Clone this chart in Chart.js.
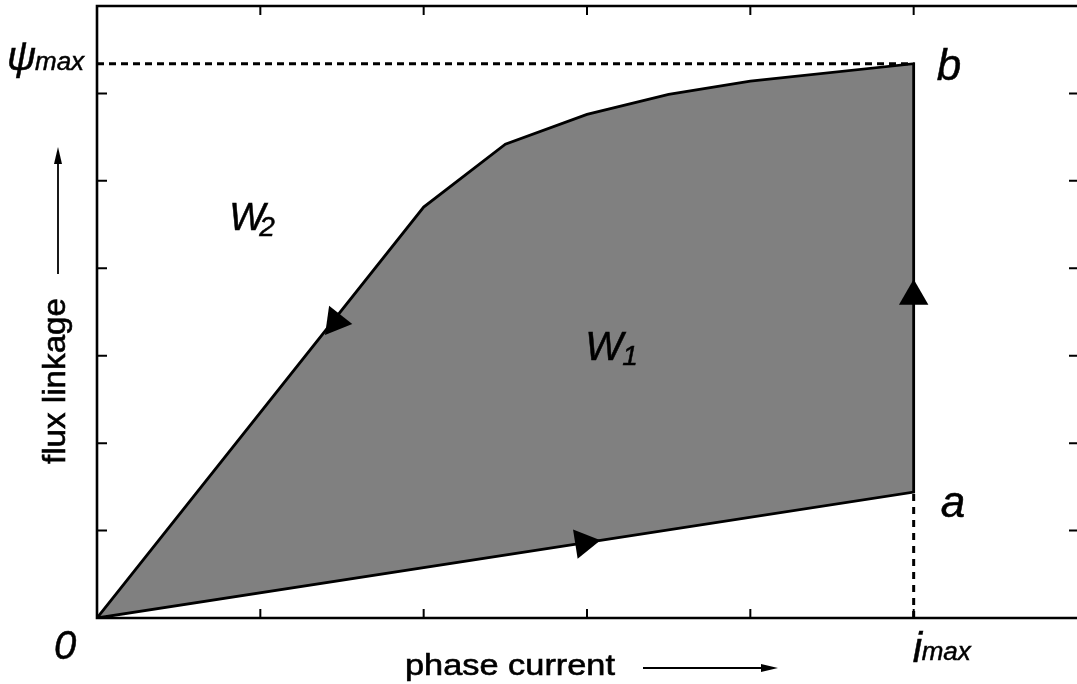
<!DOCTYPE html>
<html>
<head>
<meta charset="utf-8">
<script src="https://cdn.jsdelivr.net/npm/chart.js@4"></script>
<style>
  html, body { margin: 0; padding: 0; background: #fff; }
</style>
</head>
<body>
<canvas id="chart" width="1077" height="684"></canvas>
<script>
// tick positions on the frame (no tick labels are shown)
const currentTicks = [0, 1, 2, 3, 4, 5, 6];
const fluxTicks = [0, 1, 2, 3, 4, 5, 6, 7];

// magnetisation curve, i -> psi (aligned position)
const upperCurveI = [0, 2, 2.5, 3, 3.5, 4, 5];
const upperCurvePsi = [0, 4.70, 5.42, 5.76, 5.99, 6.14, 6.34];

// unaligned line, from a back to the origin
const lowerLineI = [5, 0];
const lowerLinePsi = [1.44, 0];

const iMax = 5;
const psiMax = 6.34;
const psiA = 1.44;

// direction arrows along the loop
const arrowI = [1.46, 5, 2.98];
const arrowPsi = [3.39, 3.68, 0.86];
const arrowAngle = [218, 0, 81];

const loopPoints = upperCurveI
  .map((x, k) => ({ x, y: upperCurvePsi[k] }))
  .concat(lowerLineI.map((x, k) => ({ x, y: lowerLinePsi[k] })));

const sans = '"Liberation Sans", Arial, sans-serif';

function fitText(ctx, text, x, y, font, width) {
  ctx.save();
  ctx.font = font;
  const w = ctx.measureText(text).width;
  ctx.translate(x, y);
  ctx.scale(width / w, 1);
  ctx.lineWidth = 0.6;
  ctx.fillText(text, 0, 0);
  ctx.strokeText(text, 0, 0);
  ctx.restore();
}

function put(ctx, text, x, y, size) {
  ctx.font = `italic ${size}px ${sans}`;
  ctx.lineWidth = 0.5;
  ctx.fillText(text, x, y);
  ctx.strokeText(text, x, y);
}

const framePlugin = {
  id: "frame",
  afterDraw(chart) {
    const { ctx, chartArea: area, scales } = chart;
    const xs = scales.x;
    const ys = scales.y;
    ctx.save();
    ctx.strokeStyle = "#000";
    ctx.fillStyle = "#000";
    ctx.lineWidth = 2.6;
    ctx.beginPath();
    ctx.moveTo(area.right, area.top);
    ctx.lineTo(area.left, area.top);
    ctx.lineTo(area.left, area.bottom);
    ctx.lineTo(area.right, area.bottom);
    ctx.stroke();

    ctx.lineWidth = 2;
    ctx.beginPath();
    currentTicks.slice(1, -1).forEach((v) => {
      const px = xs.getPixelForValue(v);
      ctx.moveTo(px, area.bottom);
      ctx.lineTo(px, area.bottom - 9);
      ctx.moveTo(px, area.top);
      ctx.lineTo(px, area.top + 9);
    });
    fluxTicks.slice(1, -1).forEach((v) => {
      const py = ys.getPixelForValue(v);
      ctx.moveTo(area.left, py);
      ctx.lineTo(area.left + 10, py);
      ctx.moveTo(area.right, py);
      ctx.lineTo(area.right - 8, py);
    });
    ctx.stroke();

    const bx = xs.getPixelForValue(iMax);
    const by = ys.getPixelForValue(psiMax);
    const ay = ys.getPixelForValue(psiA);

    ctx.textAlign = "left";
    ctx.textBaseline = "alphabetic";
    put(ctx, "\u03c8", 7, by + 6, 40);
    put(ctx, "max", 35, by + 6, 26);
    put(ctx, "b", bx + 23, by + 16, 44);
    put(ctx, "a", bx + 27, ay + 25, 44);
    put(ctx, "0", area.left - 43, area.bottom + 41, 40);
    put(ctx, "i", bx - 1, area.bottom + 44, 42);
    put(ctx, "max", bx + 8, area.bottom + 42, 26);

    const w2x = xs.getPixelForValue(0.81);
    const w2y = ys.getPixelForValue(4.44);
    put(ctx, "W", w2x, w2y, 38);
    put(ctx, "2", w2x + 30, w2y + 6, 28);
    const w1x = xs.getPixelForValue(2.99);
    const w1y = ys.getPixelForValue(2.95);
    put(ctx, "W", w1x, w1y, 40);
    put(ctx, "1", w1x + 37, w1y + 5, 28);

    // axis titles with their arrows
    fitText(ctx, "phase current", 405, 675, `30px ${sans}`, 210);
    ctx.lineWidth = 1.8;
    ctx.beginPath();
    ctx.moveTo(643, 668);
    ctx.lineTo(765, 668);
    ctx.stroke();
    ctx.beginPath();
    ctx.moveTo(778, 668);
    ctx.lineTo(761, 664);
    ctx.lineTo(761, 672);
    ctx.closePath();
    ctx.fill();

    ctx.save();
    ctx.translate(65, 464);
    ctx.rotate(-Math.PI / 2);
    fitText(ctx, "flux linkage", 0, 0, `32px ${sans}`, 166);
    ctx.restore();
    ctx.lineWidth = 1.8;
    ctx.beginPath();
    ctx.moveTo(58, 274);
    ctx.lineTo(58, 160);
    ctx.stroke();
    ctx.beginPath();
    ctx.moveTo(58, 147);
    ctx.lineTo(54, 164);
    ctx.lineTo(62, 164);
    ctx.closePath();
    ctx.fill();
    ctx.restore();
  },
};

new Chart(document.getElementById("chart"), {
  type: "scatter",
  data: {
    datasets: [
      {
        data: arrowI.map((x, k) => ({ x, y: arrowPsi[k] })),
        showLine: false,
        pointStyle: "triangle",
        pointRotation: arrowAngle,
        pointRadius: 17,
        pointBackgroundColor: "#000",
        pointBorderColor: "#000",
        pointBorderWidth: 0,
        order: 0,
      },
      {
        data: [{ x: 0, y: psiMax }, { x: iMax, y: psiMax }],
        showLine: true,
        borderColor: "#000",
        borderWidth: 3,
        borderDash: [7, 5],
        pointRadius: 0,
        order: 1,
      },
      {
        data: [{ x: iMax, y: 0 }, { x: iMax, y: psiA }],
        showLine: true,
        borderColor: "#000",
        borderWidth: 3,
        borderDash: [7, 6],
        pointRadius: 0,
        order: 1,
      },
      {
        data: loopPoints,
        showLine: true,
        fill: "shape",
        backgroundColor: "#808080",
        borderColor: "#000",
        borderWidth: 2.8,
        tension: 0,
        pointRadius: 0,
        order: 2,
      },
    ],
  },
  options: {
    responsive: false,
    animation: false,
    layout: {
      autoPadding: false,
      padding: { left: 97, right: 0, top: 6, bottom: 66 },
    },
    plugins: {
      legend: { display: false },
      tooltip: { enabled: false },
    },
    scales: {
      x: { type: "linear", min: 0, max: 6, display: false },
      y: { type: "linear", min: 0, max: 7, display: false },
    },
  },
  plugins: [framePlugin],
});
</script>
</body>
</html>
